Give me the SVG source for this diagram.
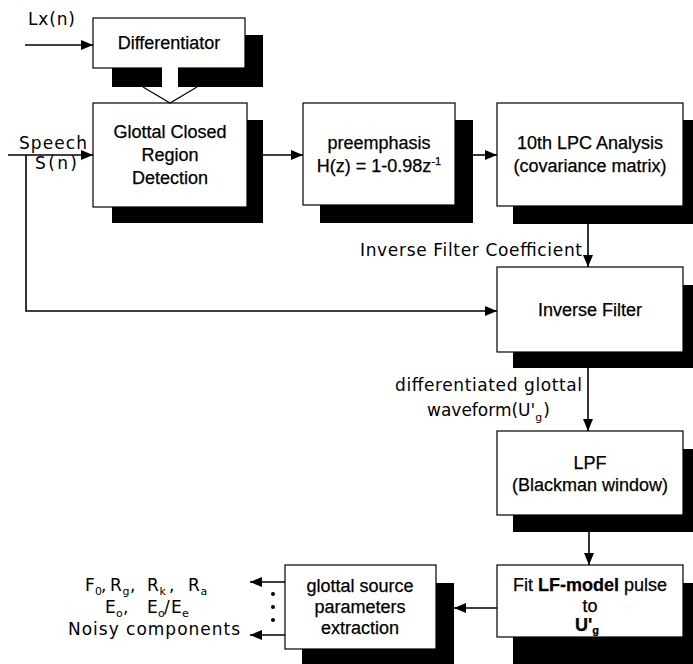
<svg xmlns="http://www.w3.org/2000/svg" width="693" height="664" viewBox="0 0 693 664">
<style>
.box{fill:#fff;stroke:#000;stroke-width:1.2}
.sh{fill:#000}
.t{font-family:"Liberation Sans",Arial,sans-serif;font-size:18px;fill:#000;stroke:#000;stroke-width:0.25;text-anchor:middle}
.l{font-family:"DejaVu Sans",sans-serif;font-size:17px;fill:#000}
.sub{font-size:11px}
.ln{fill:none;stroke:#000;stroke-width:1.6}
</style>
<defs>
<marker id="ah" markerUnits="userSpaceOnUse" markerWidth="12" markerHeight="10" refX="12" refY="5" orient="auto">
<path d="M0,0 L12,5 L0,10 z" fill="#000"/>
</marker>
</defs>
<rect width="693" height="664" fill="#fff"/>

<g id="differentiator">
<rect class="sh" x="112" y="35" width="151" height="52"/>
<rect class="box" x="93" y="18" width="152" height="50"/>
<text class="t" x="169" y="49">Differentiator</text>
</g>

<g id="glottal-closed">
<rect class="sh" x="112" y="120" width="151" height="103"/>
<rect class="box" x="93" y="103" width="154" height="104"/>
<text class="t" x="170" y="138">Glottal Closed</text>
<text class="t" x="170" y="161">Region</text>
<text class="t" x="170" y="184">Detection</text>
</g>

<g id="preemphasis">
<rect class="sh" x="320" y="120" width="153" height="103"/>
<rect class="box" x="303" y="103" width="152" height="102"/>
<text class="t" x="379" y="149">preemphasis</text>
<text class="t" x="379" y="172">H(z) = 1-0.98z<tspan font-size="11" dy="-7">-1</tspan></text>
</g>

<g id="lpc">
<rect class="sh" x="513" y="120" width="190" height="104"/>
<rect class="box" x="497" y="103" width="186" height="103"/>
<text class="t" x="590" y="149">10th LPC Analysis</text>
<text class="t" x="590" y="172">(covariance matrix)</text>
</g>

<g id="inverse-filter">
<rect class="sh" x="513" y="285" width="190" height="83"/>
<rect class="box" x="497" y="267" width="186" height="85"/>
<text class="t" x="590" y="316">Inverse Filter</text>
</g>

<g id="lpf">
<rect class="sh" x="513" y="449" width="190" height="83"/>
<rect class="box" x="497" y="431" width="186" height="84"/>
<text class="t" x="590" y="469">LPF</text>
<text class="t" x="590" y="491">(Blackman window)</text>
</g>

<g id="fit-lf">
<rect class="sh" x="513" y="583" width="190" height="90"/>
<rect class="box" x="497" y="565" width="186" height="72"/>
<text class="t" x="590" y="591">Fit <tspan font-weight="bold">LF-model</tspan> pulse</text>
<text class="t" x="590" y="612">to</text>
<text class="t" x="587" y="631" font-weight="bold">U'<tspan font-size="11" dy="3">g</tspan></text>
</g>

<g id="glottal-source">
<rect class="sh" x="302" y="583" width="152" height="90"/>
<rect class="box" x="285" y="565" width="151" height="84"/>
<text class="t" x="360" y="592">glottal source</text>
<text class="t" x="360" y="613">parameters</text>
<text class="t" x="360" y="634">extraction</text>
</g>

<g id="connectors">
<line class="ln" x1="25" y1="45" x2="93" y2="45" marker-end="url(#ah)"/>
<rect x="162" y="67" width="16" height="21" fill="#fff"/>
<polygon points="143,87 162,87 162,86 178,86 178,87 197,87 170,103" fill="#fff"/>
<polyline points="143,87 170,103 197,87" fill="none" stroke="#000" stroke-width="1.2"/>
<line class="ln" x1="8" y1="155" x2="93" y2="155" marker-end="url(#ah)"/>
<line class="ln" x1="263" y1="155" x2="303" y2="155" marker-end="url(#ah)"/>
<line class="ln" x1="473" y1="155" x2="497" y2="155" marker-end="url(#ah)"/>
<line class="ln" x1="588" y1="224" x2="588" y2="267" marker-end="url(#ah)"/>
<polyline class="ln" points="26,155 26,311 497,311" marker-end="url(#ah)"/>
<line class="ln" x1="588" y1="368" x2="588" y2="431" marker-end="url(#ah)"/>
<line class="ln" x1="589" y1="532" x2="589" y2="565" marker-end="url(#ah)"/>
<line class="ln" x1="497" y1="608" x2="454" y2="608" marker-end="url(#ah)"/>
<line class="ln" x1="285" y1="582" x2="250" y2="582" marker-end="url(#ah)"/>
<line class="ln" x1="285" y1="635" x2="250" y2="635" marker-end="url(#ah)"/>
<circle cx="273" cy="594" r="2"/>
<circle cx="273" cy="607" r="2"/>
<circle cx="273" cy="620" r="2"/>
</g>

<g id="labels">
<text class="l" x="28" y="25" textLength="47" lengthAdjust="spacing">Lx(n)</text>
<text class="l" x="19" y="149" textLength="68" lengthAdjust="spacing">Speech</text>
<text class="l" x="35" y="169" textLength="42" lengthAdjust="spacing">S(n)</text>
<text class="l" x="360" y="256" textLength="222" lengthAdjust="spacing">Inverse Filter Coefficient</text>
<text class="l" x="395" y="391" textLength="187" lengthAdjust="spacing">differentiated glottal</text>
<text class="l" x="427" y="416">waveform(U'<tspan class="sub" dx="0" dy="5">g</tspan><tspan dx="1" dy="-5">)</tspan></text>

<text class="l"><tspan x="85" y="591">F</tspan><tspan class="sub" x="95" y="595">0</tspan><tspan x="101" y="591">,</tspan><tspan x="110" y="591">R</tspan><tspan class="sub" x="122.5" y="595">g</tspan><tspan x="130" y="591">,</tspan><tspan x="147" y="591">R</tspan><tspan class="sub" x="159.5" y="595">k</tspan><tspan x="169" y="591">,</tspan><tspan x="188" y="591">R</tspan><tspan class="sub" x="200.5" y="595">a</tspan></text>

<text class="l"><tspan x="105" y="613">E</tspan><tspan class="sub" x="116" y="617">o</tspan><tspan x="123" y="613">,</tspan><tspan x="147" y="613">E</tspan><tspan class="sub" x="158" y="617">o</tspan><tspan x="164" y="613">/</tspan><tspan x="171" y="613">E</tspan><tspan class="sub" x="182" y="617">e</tspan></text>

<text class="l" x="68" y="635" textLength="172" lengthAdjust="spacing">Noisy components</text>
</g>
</svg>
